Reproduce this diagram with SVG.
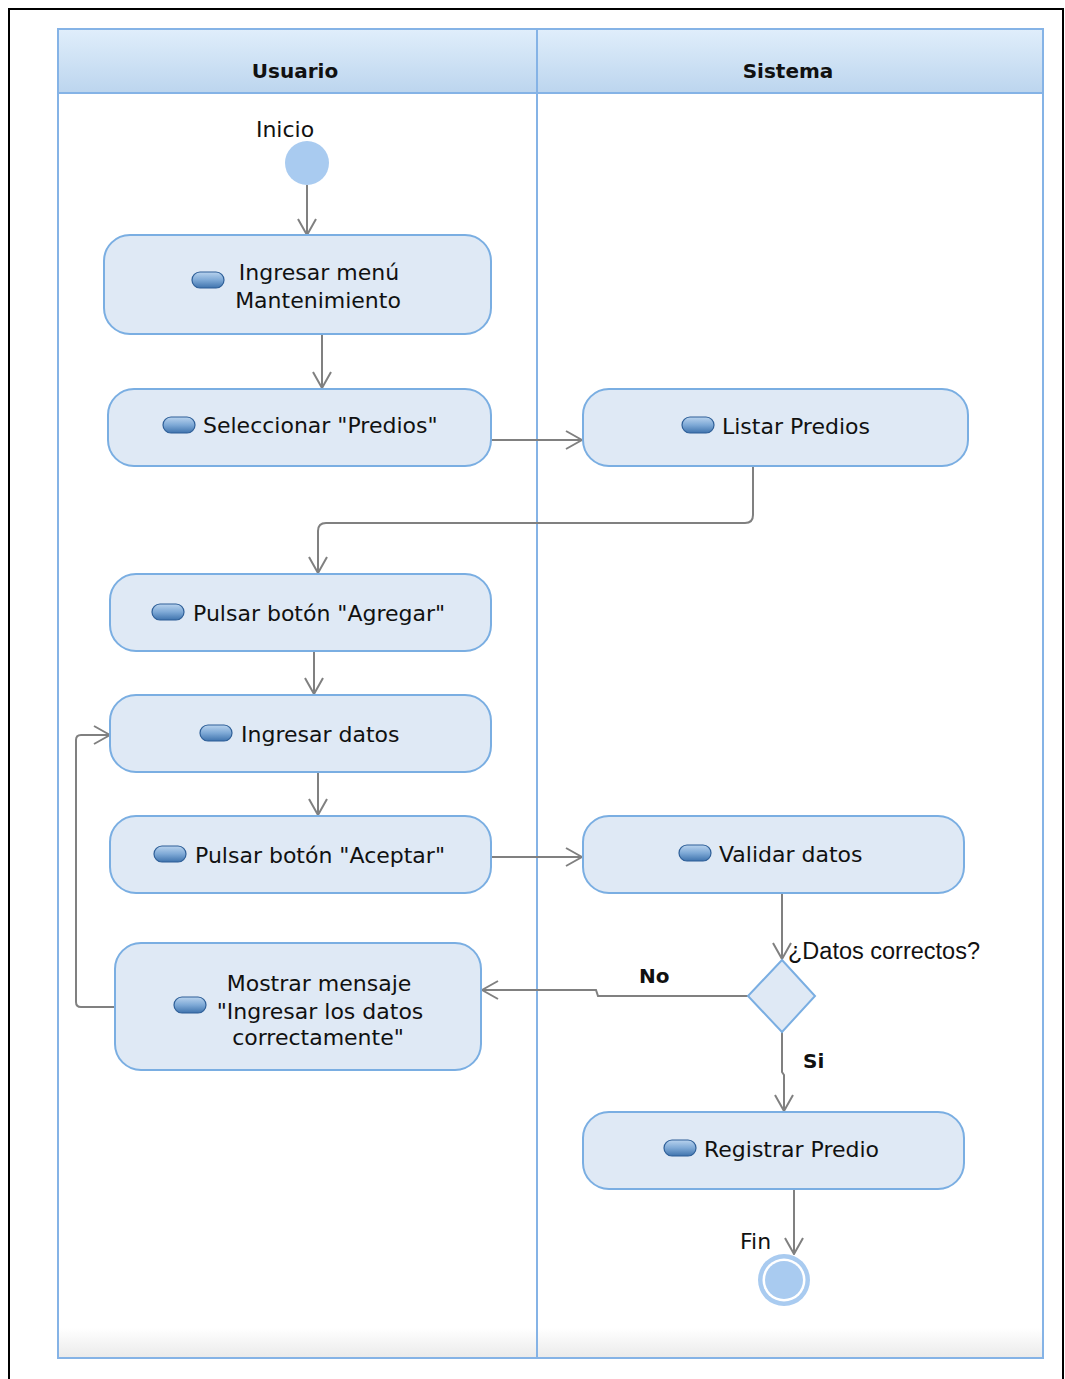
<svg xmlns="http://www.w3.org/2000/svg" width="1065" height="1379" viewBox="0 0 1065 1379">
  <defs>
    <linearGradient id="hdr" x1="0" y1="0" x2="0" y2="1">
      <stop offset="0" stop-color="#e0eefb"/>
      <stop offset="1" stop-color="#bcd5ee"/>
    </linearGradient>
    <linearGradient id="foot" x1="0" y1="0" x2="0" y2="1">
      <stop offset="0" stop-color="#ffffff"/>
      <stop offset="1" stop-color="#ebebeb"/>
    </linearGradient>
    <linearGradient id="pill" x1="0" y1="0" x2="0" y2="1">
      <stop offset="0" stop-color="#b9d3ee"/>
      <stop offset="0.5" stop-color="#7ea9d6"/>
      <stop offset="1" stop-color="#3f73ad"/>
    </linearGradient>
    <marker id="arr" viewBox="0 0 18 20" refX="17" refY="10" markerWidth="18" markerHeight="20" markerUnits="userSpaceOnUse" orient="auto">
      <path d="M1,1 L17,10 L1,19" fill="none" stroke="#808080" stroke-width="2"/>
    </marker>
    <rect id="icon" width="32" height="16" rx="8" ry="8"/>
  </defs>
  <style>
    .frame { fill: none; stroke: #000; stroke-width: 2; }
    .lane { fill: #fff; stroke: #85b3e6; stroke-width: 2; }
    .head { fill: url(#hdr); stroke: #85b3e6; stroke-width: 2; }
    .htxt { font-family: "DejaVu Sans", sans-serif; font-weight: bold; font-size: 20px; fill: #111; text-anchor: middle; }
    .act { fill: #dfe9f5; stroke: #7aaee2; stroke-width: 2; }
    .ico { fill: url(#pill); stroke: #2e5f98; stroke-width: 1.2; }
    .t { font-family: "DejaVu Sans", sans-serif; font-size: 22px; fill: #111; }
    .tc { font-family: "DejaVu Sans", sans-serif; font-size: 22px; fill: #111; text-anchor: middle; }
    .lbl { font-family: "DejaVu Sans", sans-serif; font-size: 22px; fill: #111; }
    .guard { font-family: "DejaVu Sans", sans-serif; font-weight: bold; font-size: 20px; fill: #111; }
    .cond { font-family: "Liberation Sans", Arial, sans-serif; font-size: 23.5px; fill: #111; }
    .con { fill: none; stroke: #808080; stroke-width: 2; marker-end: url(#arr); }
  </style>

  <rect width="1065" height="1379" fill="#fff"/>
  <rect class="frame" x="9" y="9" width="1054" height="1385"/>

  <!-- swimlanes -->
  <g id="lanes">
    <rect class="lane" x="58" y="29" width="985" height="1329"/>
    <rect x="59" y="1328" width="983" height="29" fill="url(#foot)"/>
    <rect class="head" x="58" y="29" width="479" height="64"/>
    <rect class="head" x="537" y="29" width="506" height="64"/>
    <line x1="537" y1="93" x2="537" y2="1358" stroke="#85b3e6" stroke-width="2"/>
    <rect class="lane" x="58" y="29" width="985" height="1329" fill="none" style="fill:none"/>
    <text class="htxt" x="295" y="78">Usuario</text>
    <text class="htxt" x="788" y="78">Sistema</text>
  </g>

  <!-- connectors -->
  <g id="connectors">
    <path class="con" d="M307,185 V235"/>
    <path class="con" d="M322,334 V388"/>
    <path class="con" d="M491,440 H582"/>
    <path class="con" d="M753,467 V515 Q753,523 745,523 H326 Q318,523 318,531 V573"/>
    <path class="con" d="M314,651 V694"/>
    <path class="con" d="M318,772 V815"/>
    <path class="con" d="M491,857 H582"/>
    <path class="con" d="M782,893 V959"/>
    <path class="con" d="M748,996 H598 L596,990 H482"/>
    <path class="con" d="M782,1032 V1072 L784,1075 V1111"/>
    <path class="con" d="M794,1189 V1254"/>
    <path class="con" d="M115,1007 H81 Q76,1007 76,1002 V740 Q76,735 81,735 H110"/>
    <text class="guard" x="639" y="983">No</text>
    <text class="guard" x="803" y="1068">Si</text>
  </g>

  <g id="inicio">
    <text class="lbl" x="285" y="137" text-anchor="middle">Inicio</text>
    <circle cx="307" cy="163" r="22" fill="#a9cbf0"/>
  </g>

  <g id="ingresar-menu">
    <rect class="act" x="104" y="235" width="387" height="99" rx="26"/>
    <use href="#icon" class="ico" x="192" y="272"/>
    <text class="tc" x="319" y="280">Ingresar menú</text>
    <text class="tc" x="318" y="308">Mantenimiento</text>
  </g>

  <g id="seleccionar-predios">
    <rect class="act" x="108" y="389" width="383" height="77" rx="26"/>
    <use href="#icon" class="ico" x="163" y="417"/>
    <text class="t" x="203" y="433">Seleccionar "Predios"</text>
  </g>

  <g id="listar-predios">
    <rect class="act" x="583" y="389" width="385" height="77" rx="26"/>
    <use href="#icon" class="ico" x="682" y="417"/>
    <text class="t" x="722" y="434">Listar Predios</text>
  </g>

  <g id="pulsar-agregar">
    <rect class="act" x="110" y="574" width="381" height="77" rx="26"/>
    <use href="#icon" class="ico" x="152" y="604"/>
    <text class="t" x="193" y="621">Pulsar botón "Agregar"</text>
  </g>

  <g id="ingresar-datos">
    <rect class="act" x="110" y="695" width="381" height="77" rx="26"/>
    <use href="#icon" class="ico" x="200" y="725"/>
    <text class="t" x="241" y="742">Ingresar datos</text>
  </g>

  <g id="pulsar-aceptar">
    <rect class="act" x="110" y="816" width="381" height="77" rx="26"/>
    <use href="#icon" class="ico" x="154" y="846"/>
    <text class="t" x="195" y="863">Pulsar botón "Aceptar"</text>
  </g>

  <g id="validar-datos">
    <rect class="act" x="583" y="816" width="381" height="77" rx="26"/>
    <use href="#icon" class="ico" x="679" y="845"/>
    <text class="t" x="719" y="862">Validar datos</text>
  </g>

  <g id="decision">
    <polygon points="782,960 815,996 782,1032 748,996" fill="#dfe9f5" stroke="#7aaee2" stroke-width="2"/>
    <text class="cond" x="788" y="959">¿Datos correctos?</text>
  </g>

  <g id="mostrar-mensaje">
    <rect class="act" x="115" y="943" width="366" height="127" rx="26"/>
    <use href="#icon" class="ico" x="174" y="997"/>
    <text class="tc" x="319" y="991">Mostrar mensaje</text>
    <text class="tc" x="320" y="1019">"Ingresar los datos</text>
    <text class="tc" x="318" y="1045">correctamente"</text>
  </g>

  <g id="registrar-predio">
    <rect class="act" x="583" y="1112" width="381" height="77" rx="26"/>
    <use href="#icon" class="ico" x="664" y="1140"/>
    <text class="t" x="704" y="1157">Registrar Predio</text>
  </g>

  <g id="fin">
    <text class="lbl" x="740" y="1249">Fin</text>
    <circle cx="784" cy="1280" r="26" fill="#a9cbf0"/>
    <circle cx="784" cy="1280" r="21.5" fill="#fff"/>
    <circle cx="784" cy="1280" r="19" fill="#a9cbf0"/>
  </g>
</svg>
